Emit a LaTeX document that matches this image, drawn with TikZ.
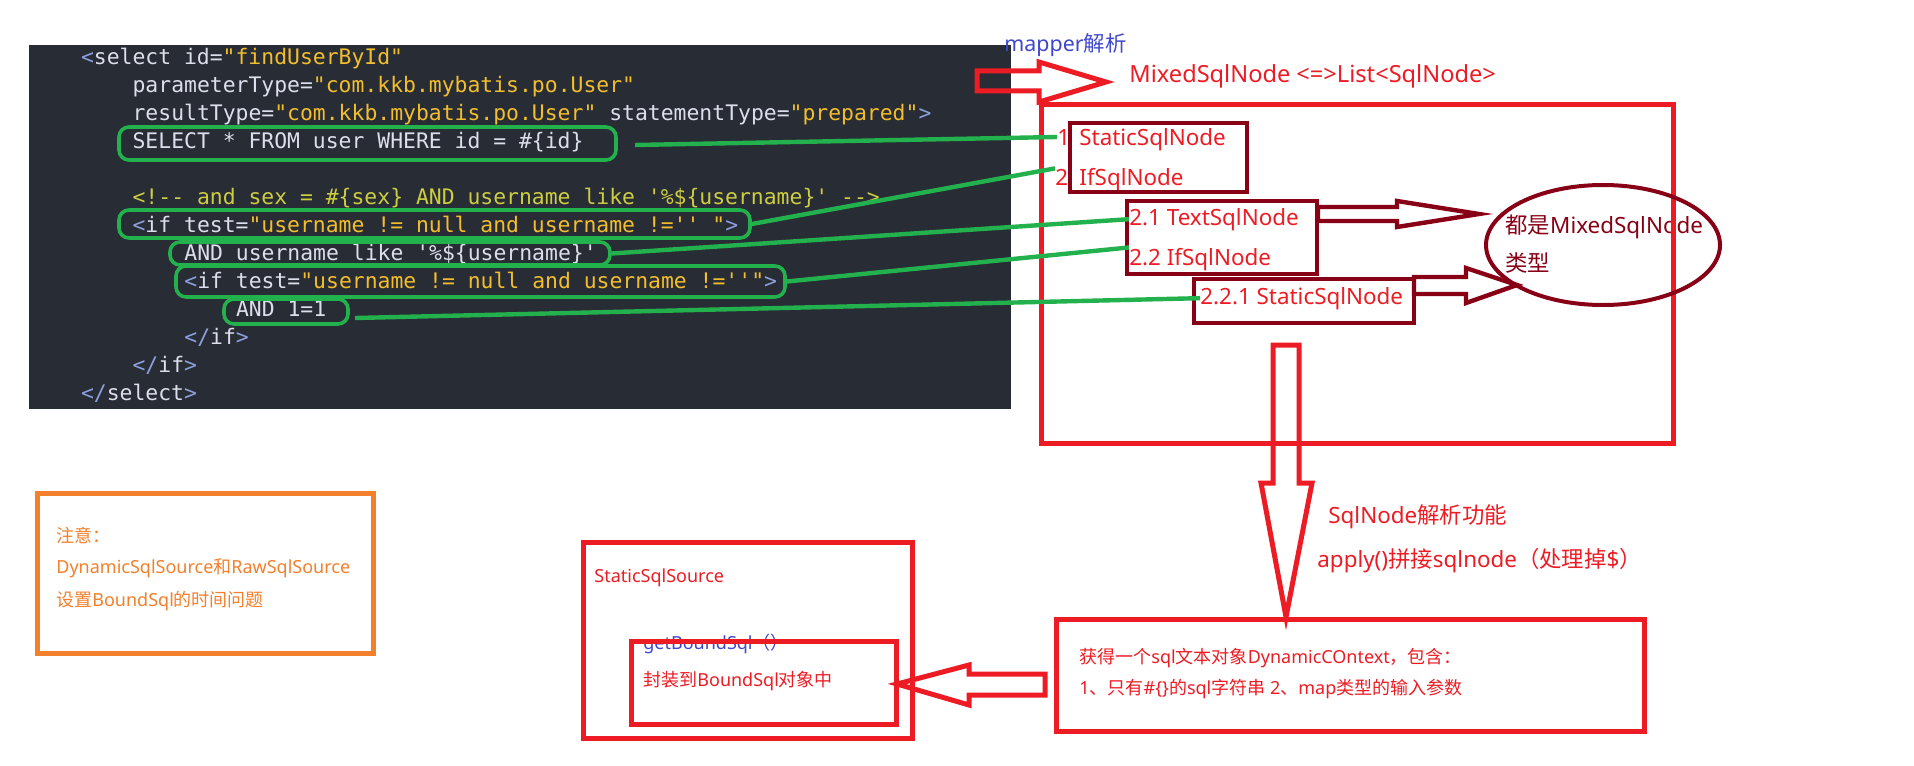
\documentclass[tikz,border=0pt]{standalone}
\usepackage{fontspec}
\setmainfont{Noto Sans}
\setmonofont{DejaVu Sans Mono}
\newfontfamily\zh{Noto Sans CJK SC}
\usetikzlibrary{fit,shapes.geometric}

\definecolor{panel}{RGB}{40,44,52}
\definecolor{codetxt}{RGB}{220,223,235}
\definecolor{codebr}{RGB}{140,160,222}
\definecolor{codestr}{RGB}{242,190,45}
\definecolor{codecmt}{RGB}{205,205,65}
\definecolor{grn}{RGB}{34,177,76}
\definecolor{redc}{RGB}{237,28,36}
\definecolor{maroon}{RGB}{136,0,21}
\definecolor{blu}{RGB}{63,72,204}
\definecolor{orng}{RGB}{242,128,44}

% code colouring
\newcommand\cb[1]{\textcolor{codebr}{#1}}
\newcommand\cy[1]{\textcolor{codestr}{#1}}

\begin{document}
\begin{tikzpicture}[x=0.5pt,y=-0.5pt]
  \tikzset{
    code/.style={anchor=base west,inner sep=0,text=codetxt,font=\ttfamily\fontsize{10.7}{12}\selectfont},
    gbox/.style={draw=grn,line width=1.8pt,rounded corners=5pt,inner sep=0},
    gline/.style={draw=grn,line width=2.2pt},
    rbox/.style={draw=redc,line width=2.5pt,inner sep=0},
    mbox/.style={draw=maroon,line width=2.2pt,inner sep=0},
    lbl/.style={anchor=base west,inner sep=0,text=redc,font=\fontsize{11.2}{13}\selectfont},
    note/.style={anchor=base west,inner sep=0,text=redc,font=\fontsize{9}{11}\selectfont},
    hollow/.style={draw=redc,line width=2.5pt,line join=miter},
  }
  \useasboundingbox (0,0) rectangle (1914,765);
  \fill[white] (0,0) rectangle (1914,765);

  % the mapper xml
  \fill[panel] (29,45) rectangle (1011,409);
  \node[code] (c1)  at (80.6,64.7)  {\cb{<}select id=\cy{"findUserById"}};
  \node[code] (c2)  at (132.2,92.7) {parameterType=\cy{"com.kkb.mybatis.po.User"}};
  \node[code] (c3)  at (132.2,120.7) {resultType=\cy{"com.kkb.mybatis.po.User"} statementType=\cy{"prepared"}\cb{>}};
  \node[code] (c4)  at (132.2,148.7) {SELECT * FROM user WHERE id = \#\{id\}};
  \node[code,text=codecmt] (c5) at (132.2,204.7) {<!-- and sex = \#\{sex\} AND username like '\%\$\{username\}' -->};
  \node[code] (c6)  at (132.2,232.7) {\cb{<}if test=\cy{"username != null and username !='' "}\cb{>}};
  \node[code] (c7)  at (184,260.7)   {AND username like '\%\$\{username\}'};
  \node[code] (c8)  at (184,288.7)   {\cb{<}if test=\cy{"username != null and username !=''"}\cb{>}};
  \node[code] (c9)  at (235.6,316.7) {AND 1=1};
  \node[code] (c10) at (184,344.7)   {\cb{</}if\cb{>}};
  \node[code] (c11) at (132.2,372.7) {\cb{</}if\cb{>}};
  \node[code] (c12) at (80.6,400.7)  {\cb{</}select\cb{>}};

  \node[gbox,fit={(119,127) (616,160)}] (g1) {};
  \node[gbox,fit={(119,210) (750,238)}] (g2) {};
  \node[gbox,fit={(170,242) (610,265)}] (g3) {};
  \node[gbox,fit={(176,266) (785,297)}] (g4) {};
  \node[gbox,fit={(224,299) (348,324)}] (g5) {};

  % sql nodes
  \node[lbl,text=blu,font=\fontsize{10.7}{13}\selectfont] (mapper) at (1004,52) {mapper{\zh 解析}};
  \node[lbl,font=\fontsize{11.8}{14}\selectfont] (mixed) at (1129,83) {MixedSqlNode <=>List<SqlNode>};
  \node[lbl] (n1) at (1057,145) {1};
  \node[lbl] (static1) at (1079,145) {StaticSqlNode};
  \node[lbl] (n2) at (1055,185) {2};
  \node[lbl] (if2) at (1079,185) {IfSqlNode};
  \node[lbl] (t21) at (1129,225) {2.1 TextSqlNode};
  \node[lbl] (t22) at (1129,265) {2.2 IfSqlNode};
  \node[lbl] (t221) at (1200,304) {2.2.1 StaticSqlNode};
  \node[lbl,text=maroon] (all1) at (1505,233) {{\zh 都是}MixedSqlNode};
  \node[lbl,text=maroon] (all2) at (1505,271) {{\zh 类型}};
  \node[lbl] (func) at (1328,523) {SqlNode{\zh 解析功能}};
  \node[lbl] (apply) at (1317,567) {apply(){\zh 拼接}sqlnode{\zh （处理掉}\${\zh ）}};

  \node[rbox,fit={(1041,105) (1673,443)}] (nodes) {};
  \node[mbox,fit={(1070,123) (1247,192)}] (boxa) {};
  \node[mbox,fit={(1127,201) (1317,274)}] (boxb) {};
  \node[mbox,fit={(1194,279) (1414,323)}] (boxc) {};
  \node[draw=maroon,line width=2pt,ellipse,minimum width=117pt,minimum height=60pt,inner sep=0] (types) at (1603,245) {};

  \coordinate (s1) at (635,145);
  \coordinate (s5) at (355,318);
  \draw[gline] (s1) -- (n1.west);
  \draw[gline] (g2.east) -- (n2.north west);
  \draw[gline] (g3.east) -- (t21.west);
  \draw[gline] (g4.east) -- (t22.north west);
  \draw[gline] (s5) -- (t221.west);

  % block arrows
  \draw[hollow] (977,71) -- (1039,71) -- (1039,62) -- (1106,82) -- (1039,102) -- (1039,91) -- (977,91) -- cycle;
  \draw[hollow,draw=maroon,line width=2.2pt] (1318,207) -- (1397,207) -- (1397,201) -- (1479,214) -- (1397,227) -- (1397,221) -- (1318,221) -- cycle;
  \draw[hollow,draw=maroon,line width=2.2pt] (1414,277) -- (1466,277) -- (1466,268) -- (1517,285) -- (1466,303) -- (1466,294) -- (1414,294) -- cycle;
  \draw[hollow] (1273,345) -- (1299,345) -- (1299,483) -- (1312,483) -- (1286,617) -- (1261,483) -- (1273,483) -- cycle;
  \draw[hollow] (1045,674) -- (969,674) -- (969,665) -- (897,684) -- (969,705) -- (969,695) -- (1045,695) -- cycle;

  % sql source
  \node[note] (dyn1) at (1079,663) {{\zh 获得一个}sql{\zh 文本对象}DynamicCOntext{\zh ，包含：}};
  \node[note] (dyn2) at (1079,694) {1{\zh 、只有}\#\{\}{\zh 的}sql{\zh 字符串} 2{\zh 、}map{\zh 类型的输入参数}};
  \node[rbox,fit={(1056,619) (1644,731)}] (ctx) {};
  \node[note] (src) at (594,582) {StaticSqlSource};
  \node[note,text=blu] (getb) at (643,649) {getBoundSql{\zh （）}};
  \node[note] (wrap) at (643,686) {{\zh 封装到}BoundSql{\zh 对象中}};
  \node[rbox,fit={(583,542) (912,738)}] (source) {};
  \node[rbox,fit={(631,641) (896,724)}] (bound) {};

  % note
  \node[note,text=orng] (warn1) at (56,542) {{\zh 注意：}};
  \node[note,text=orng] (warn2) at (56,573) {DynamicSqlSource{\zh 和}RawSqlSource};
  \node[note,text=orng] (warn3) at (56,606) {{\zh 设置}BoundSql{\zh 的时间问题}};
  \node[draw=orng,line width=2.5pt,inner sep=0,fit={(37,493) (373,653)}] (warn) {};
\end{tikzpicture}
\end{document}
